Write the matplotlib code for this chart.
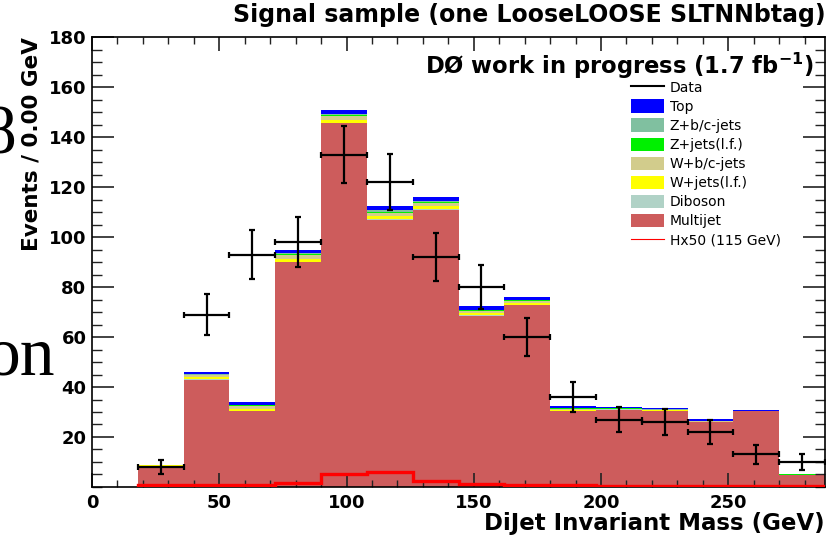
import numpy as np
import matplotlib
matplotlib.use("Agg")
import matplotlib.pyplot as plt
from matplotlib.patches import Patch
from matplotlib.lines import Line2D
from matplotlib.ticker import MultipleLocator

plt.rcParams['font.family'] = ['DejaVu Sans']

# Dijet mass bins, 18 GeV wide
edges = [18, 36, 54, 72, 90, 108, 126, 144, 162, 180, 198, 216, 234, 252, 270, 288]

# Background stack, bottom to top
multijet = [8.0, 43.0, 30.4, 90.0, 145.5, 107.0, 111.0, 68.6, 72.8, 30.5, 31.0, 30.5, 26.0, 30.5, 4.6]
diboson  = [0.1, 0.2, 0.2, 0.2, 0.3, 0.3, 0.3, 0.2, 0.2, 0.1, 0.1, 0.1, 0.1, 0.0, 0.0]
w_lf     = [0.5, 0.8, 0.8, 1.0, 1.0, 1.0, 1.0, 0.7, 0.6, 0.4, 0.1, 0.1, 0.1, 0.05, 0.0]
w_bc     = [0.2, 0.8, 1.0, 1.5, 1.5, 1.5, 1.4, 0.9, 0.8, 0.4, 0.2, 0.2, 0.1, 0.05, 0.1]
z_lf     = [0.05, 0.2, 0.3, 0.4, 0.4, 0.4, 0.4, 0.3, 0.3, 0.2, 0.1, 0.1, 0.1, 0.0, 0.3]
z_bc     = [0.05, 0.2, 0.3, 0.4, 0.5, 0.5, 0.5, 0.3, 0.3, 0.2, 0.1, 0.1, 0.1, 0.0, 0.0]
top      = [0.05, 0.8, 1.0, 1.5, 1.5, 1.8, 1.6, 1.4, 1.0, 0.8, 0.6, 0.6, 0.7, 0.4, 0.0]

# Observed events
data = [8, 69, 93, 98, 133, 122, 92, 80, 60, 36, 27, 26, 22, 13, 10]

# Higgs signal x50 (m_H = 115 GeV)
signal = [0.6, 0.7, 0.9, 1.7, 5.2, 6.1, 2.5, 1.0, 0.7, 0.6, 0.5, 0.5, 0.5, 0.5, 0.5]

stack = [
    ("Multijet", multijet, "#cd5c5c"),
    ("Diboson", diboson, "#b0d2c6"),
    ("W+jets(l.f.)", w_lf, "#ffff00"),
    ("W+b/c-jets", w_bc, "#d2cc8c"),
    ("Z+jets(l.f.)", z_lf, "#00f000"),
    ("Z+b/c-jets", z_bc, "#80c0a0"),
    ("Top", top, "#0000ff"),
]

edges = np.array(edges, dtype=float)
lo = edges[:-1]
width = np.diff(edges)
centers = lo + width / 2

fig = plt.figure(figsize=(8.31, 5.38), dpi=100)
ax = fig.add_axes([0.1107, 0.0948, 0.8821, 0.8364])

bottom = np.zeros(len(lo))
for name, vals, col in stack:
    vals = np.array(vals)
    ax.bar(lo, vals, width=width, bottom=bottom, align='edge', color=col, linewidth=0, zorder=1)
    bottom += vals

ax.stairs(signal, edges, color='red', linewidth=2.4, zorder=2.6)

ax.errorbar(centers, data, xerr=width / 2, yerr=np.sqrt(data), fmt='none', ecolor='black',
            elinewidth=1.6, capsize=2, capthick=1.6, zorder=3)

ax.set_xlim(0, 288)
ax.set_ylim(0, 180)
ax.xaxis.set_major_locator(MultipleLocator(50))
ax.xaxis.set_minor_locator(MultipleLocator(10))
ax.yaxis.set_major_locator(MultipleLocator(20))
ax.yaxis.set_minor_locator(MultipleLocator(5))
ax.set_yticks([20, 40, 60, 80, 100, 120, 140, 160, 180])
ax.tick_params(which='both', direction='in', top=True, right=True, color='#222222')
ax.tick_params(axis='x', which='major', length=10, width=1.2, pad=5)
ax.tick_params(axis='x', which='minor', length=5, width=1.0)
ax.tick_params(axis='y', which='major', length=16, width=1.2, pad=4)
ax.tick_params(axis='y', which='minor', length=7, width=1.0)
for lab in ax.get_xticklabels() + ax.get_yticklabels():
    lab.set_fontweight('bold')
    lab.set_fontsize(13)
for sp in ax.spines.values():
    sp.set_linewidth(1.2)

ax.set_xlabel("DiJet Invariant Mass (GeV)", fontsize=16.5, fontweight='bold', loc='right', labelpad=0)
ax.set_ylabel("Events / 0.00 GeV", fontsize=15.5, fontweight='bold', loc='top', labelpad=5)

fig.text(0.994, 0.972, "Signal sample (one LooseLOOSE SLTNNbtag)", ha='right', va='center',
         fontsize=17, fontweight='bold')
ax.text(0.984, 0.936, r"DØ work in progress (1.7 fb$^{\mathbf{-1}}$)", transform=ax.transAxes,
        ha='right', va='center', fontsize=16.3, fontweight='bold')

handles = [Line2D([], [], color='black', lw=1.5)]
labels = ["Data"]
for name, vals, col in reversed(stack):
    handles.append(Patch(facecolor=col, edgecolor='none'))
    labels.append(name)
handles.append(Line2D([], [], color='red', lw=0.8))
labels.append("Hx50 (115 GeV)")
ax.legend(handles, labels, loc='upper left', bbox_to_anchor=(0.735, 0.904), frameon=False,
          fontsize=10, handlelength=2.4, handleheight=1.1, labelspacing=0.34, handletextpad=0.4,
          borderpad=0, borderaxespad=0)

# slide text peeking in from the left
fig.text(0.019, 0.745, "8", ha='right', va='center', fontsize=50, family='Liberation Serif')
fig.text(0.066, 0.335, "on", ha='right', va='center', fontsize=50, family='Liberation Serif')

fig.savefig("out.png", dpi=100)
